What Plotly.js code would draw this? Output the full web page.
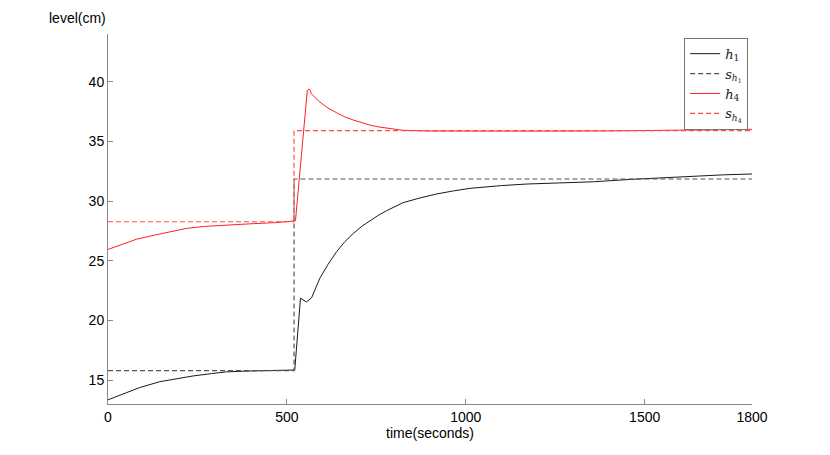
<!DOCTYPE html>
<html>
<head>
<meta charset="utf-8">
<script src="https://cdn.plot.ly/plotly-3.0.1.min.js"></script>
<style>
  html, body { margin: 0; padding: 0; background: #fff; }
  #chart { width: 830px; height: 455px; }
</style>
</head>
<body>
<div id="chart"></div>
<script>
const tH1 = [0, 40, 88, 145, 190, 238, 290, 331, 380, 424, 470, 518, 522, 538, 545, 555, 569, 580, 592, 615, 639, 662, 686, 710, 732, 755, 779, 800, 825, 870, 919, 965, 1012, 1100, 1171, 1260, 1357, 1468, 1550, 1637, 1720, 1800];
const h1 = [13.35, 13.8, 14.37, 14.87, 15.1, 15.35, 15.55, 15.69, 15.75, 15.77, 15.8, 15.85, 15.85, 21.86, 21.7, 21.55, 21.9, 22.7, 23.53, 24.7, 25.76, 26.6, 27.3, 27.9, 28.36, 28.8, 29.2, 29.5, 29.87, 30.25, 30.6, 30.85, 31.07, 31.3, 31.43, 31.52, 31.62, 31.83, 31.95, 32.13, 32.2, 32.27];

const tH4 = [0, 40, 79, 130, 173, 219, 270, 320, 400, 470, 520, 524, 557, 562, 565, 568, 592, 615, 639, 662, 685, 710, 732, 755, 779, 800, 825, 900, 1000, 1200, 1400, 1600, 1700, 1800];
const h4 = [25.95, 26.4, 26.8, 27.15, 27.43, 27.71, 27.88, 27.98, 28.1, 28.2, 28.3, 28.35, 39.25, 39.4, 39.3, 39.0, 38.3, 37.8, 37.4, 37.05, 36.8, 36.55, 36.37, 36.22, 36.1, 36.0, 35.93, 35.87, 35.85, 35.86, 35.88, 35.93, 35.97, 36.01];

// referencias (setpoints)
const tRef = [0, 520, 520, 1800];
const sH1 = [15.8, 15.8, 31.85, 31.85];
const sH4 = [28.27, 28.27, 35.9, 35.9];

const xTicks = [0, 500, 1000, 1500, 1800];
const yTicks = [15, 20, 25, 30, 35, 40];

const data = [
    { x: tH1, y: h1, type: 'scatter', mode: 'lines', name: '<i>h</i><sub>1</sub>',
      line: { color: '#1a1a1a', width: 1 } },
    { x: tRef, y: sH1, type: 'scatter', mode: 'lines', name: '<i>s</i><sub><i>h</i><sub>1</sub></sub>',
      line: { color: '#555555', width: 1.2, dash: '5px,3px' } },
    { x: tH4, y: h4, type: 'scatter', mode: 'lines', name: '<i>h</i><sub>4</sub>',
      line: { color: '#ff2020', width: 1 } },
    { x: tRef, y: sH4, type: 'scatter', mode: 'lines', name: '<i>s</i><sub><i>h</i><sub>4</sub></sub>',
      line: { color: '#ff4a4a', width: 1.2, dash: '5px,3px' } }
];

const axisFont = { family: 'Liberation Sans, Arial, sans-serif', size: 14, color: '#000' };

const layout = {
    width: 830,
    height: 455,
    margin: { l: 108, r: 78, t: 34, b: 51 },
    paper_bgcolor: '#fff',
    plot_bgcolor: '#fff',
    font: axisFont,
    showlegend: true,
    legend: {
        x: 0.994, y: 0.99, xanchor: 'right', yanchor: 'top',
        bgcolor: '#fff', bordercolor: '#777', borderwidth: 1,
        font: { family: 'DejaVu Serif, Liberation Serif, serif', size: 13, color: '#222' },
        itemwidth: 30, tracegroupgap: 0
    },
    xaxis: {
        range: [0, 1800],
        tickvals: xTicks,
        ticks: 'inside', ticklen: 5, tickcolor: '#888',
        showline: true, linecolor: '#888', linewidth: 1,
        showgrid: false, zeroline: false,
        tickfont: axisFont,
        title: { text: 'time(seconds)', font: axisFont, standoff: 2 }
    },
    yaxis: {
        range: [13, 44],
        tickvals: yTicks,
        ticks: 'inside', ticklen: 5, tickcolor: '#888',
        showline: true, linecolor: '#888', linewidth: 1,
        showgrid: false, zeroline: false,
        tickfont: axisFont
    },
    annotations: [{
        text: 'level(cm)', xref: 'paper', yref: 'paper',
        x: 0, y: 1, xanchor: 'right', yanchor: 'bottom', yshift: 6,
        showarrow: false, font: axisFont
    }]
};

Plotly.newPlot('chart', data, layout, { displayModeBar: false, staticPlot: true });
</script>
</body>
</html>
